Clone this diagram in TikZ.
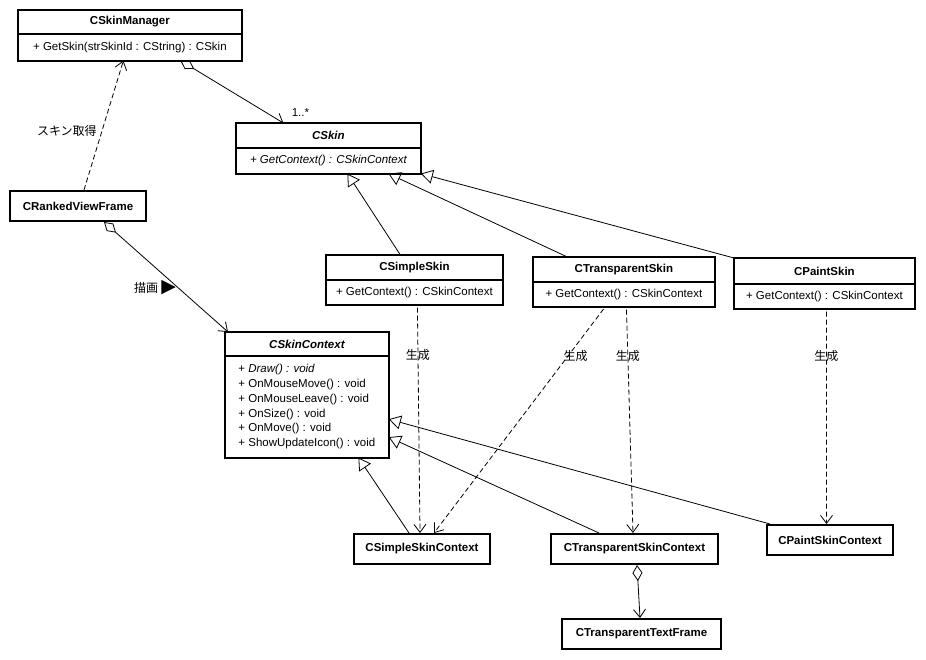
\documentclass[tikz,border=0pt]{standalone}
\usepackage{fontspec}
\setmainfont{Liberation Sans}
\newfontfamily\cjk{Noto Sans CJK JP}
\newfontfamily\symfont{DejaVu Sans}
\usetikzlibrary{arrows.meta}

\begin{document}
\begin{tikzpicture}[x=1pt, y=-1pt]
        \tikzstyle{every node} = [rectangle, inner sep=0pt, font=\fontsize{11.5}{14.8}\selectfont]
        \tikzstyle{head} = [draw, line width=0.8pt, anchor=north west, font=\fontsize{11.5}{14.8}\selectfont\bfseries]
        \tikzstyle{body} = [draw, line width=0.8pt, anchor=north west]
        \tikzstyle{frame} = [line width=2pt]
        \tikzstyle{single} = [draw, line width=2pt, anchor=north west, minimum height=30pt, font=\fontsize{11.5}{14.8}\selectfont\bfseries]
        \tikzstyle{inherit} = [-{Triangle[open,length=12pt,width=14pt]}, line width=0.8pt]
        \tikzstyle{create} = [-{Straight Barb[length=8pt,width=12pt]}, line width=0.8pt, dash pattern=on 5pt off 3pt]
        \tikzstyle{owns} = [{Diamond[open,length=16pt,width=10pt]}-{Straight Barb[length=8pt,width=12pt]}, line width=0.8pt]
        \tikzstyle{lbl} = [font=\cjk\fontsize{12}{13}\selectfont]

        \useasboundingbox[fill=white] (0,0) rectangle (926,660);

        % classes with members
        \node[head, minimum width=223pt, minimum height=23pt] (mgr) at (18,10) {CSkinManager};
        \node[body, minimum width=223pt, minimum height=26pt] (mgr-m) at (mgr.south west) {+ GetSkin(strSkinId : CString) : CSkin};
        \draw[frame] (mgr.north west) rectangle (mgr-m.south east);

        \node[head, minimum width=184pt, minimum height=24pt] (sk) at (236,123) {\itshape CSkin};
        \node[body, minimum width=184pt, minimum height=25pt] (sk-m) at (sk.south west) {\itshape + GetContext() : CSkinContext};
        \draw[frame] (sk.north west) rectangle (sk-m.south east);

        \node[head, minimum width=163pt, minimum height=23pt] (ctx) at (225,332) {\itshape CSkinContext};
        \node[body, minimum width=163pt, minimum height=101pt, align=left] (ctx-m) at (ctx.south west)
            {+ \textit{Draw() : void}\\+ OnMouseMove() : void\\+ OnMouseLeave() : void\\+ OnSize() : void\\+ OnMove() : void\\+ ShowUpdateIcon() : void};
        \draw[frame] (ctx.north west) rectangle (ctx-m.south east);

        \node[head, minimum width=176pt, minimum height=24pt] (ss) at (326,255) {CSimpleSkin};
        \node[body, minimum width=176pt, minimum height=24pt] (ss-m) at (ss.south west) {+ GetContext() : CSkinContext};
        \draw[frame] (ss.north west) rectangle (ss-m.south east);

        \node[head, minimum width=181pt, minimum height=24pt] (ts) at (533,257) {CTransparentSkin};
        \node[body, minimum width=181pt, minimum height=24pt] (ts-m) at (ts.south west) {+ GetContext() : CSkinContext};
        \draw[frame] (ts.north west) rectangle (ts-m.south east);

        \node[head, minimum width=180pt, minimum height=25pt] (ps) at (734,258) {CPaintSkin};
        \node[body, minimum width=180pt, minimum height=24pt] (ps-m) at (ps.south west) {+ GetContext() : CSkinContext};
        \draw[frame] (ps.north west) rectangle (ps-m.south east);

        % plain classes
        \node[single, minimum width=136pt] (rvf) at (9,190) {CRankedViewFrame};
        \node[single, minimum width=136pt] (ssc) at (353,533) {CSimpleSkinContext};
        \node[single, minimum width=167pt] (tsc) at (550,533) {CTransparentSkinContext};
        \node[single, minimum width=159pt] (ttf) at (561,618) {CTransparentTextFrame};
        \node[single, minimum width=126pt] (psc) at (766,524) {CPaintSkinContext};

        % generalization
        \foreach \from/\fx/\fy/\to/\tx/\ty in {ss.north/-14/0/sk-m.south/19/0, ts.north/-56.5/0/sk-m.south/60/0,
                ps.north west/0/0/sk-m.south east/0/0, ssc.north/-13/0/ctx-m.south/51.5/0,
                tsc.north/-35.5/0/ctx-m.east/0/-30.5, psc.north west/4/0/ctx-m.east/0/-12.5}
            \draw[inherit] ([xshift=\fx pt, yshift=\fy pt]\from) -- ([xshift=\tx pt, yshift=\ty pt]\to);

        % 生成
        \foreach \from/\fx/\to/\tx/\lx in {ss-m/3/ssc/-2/0, ts-m/-18.5/ssc/12/8, ts-m/2.5/tsc/-1.5/0, ps-m/2/psc/-3.5/0}
            \draw[create, shorten <=3pt] ([xshift=\fx pt]\from.south) -- ([xshift=\tx pt]\to.north)
                node[lbl, pos=0.22, xshift=\lx pt] {生成};

        % associations
        \draw[owns] ([xshift=50.5pt]mgr-m.south) -- ([xshift=-45pt]sk.north)
            node[pos=1, xshift=17pt, yshift=10pt] {1..*};
        \draw[create] ([xshift=6pt]rvf.north) -- ([xshift=-6.5pt]mgr-m.south)
            node[lbl, pos=0.46, left=5pt] {スキン取得};
        \draw[owns] ([xshift=26pt]rvf.south) -- ([xshift=3pt]ctx.north west)
            node[pos=0.6, left=2pt] {{\cjk\fontsize{12}{13}\selectfont 描画} {\symfont\fontsize{19}{19}\selectfont ▶}};
        \draw[owns] ([xshift=2.5pt]tsc.south) -- ([xshift=-1.5pt]ttf.north);
\end{tikzpicture}
\end{document}
